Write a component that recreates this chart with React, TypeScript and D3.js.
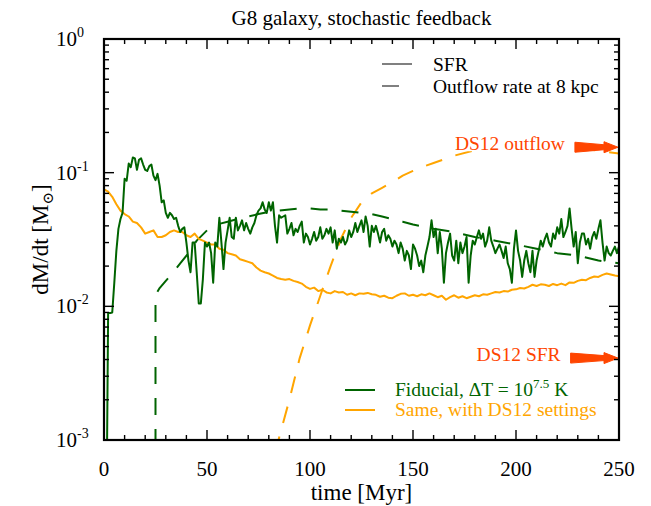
import React from "react";
import * as d3 from "d3";

// ---------- DATA ----------
// Fiducial SFR (green solid), t = 1..250 Myr step 1
const fidSfrStart = 1;
const fidSfr = [
  0.0001, 0.0089, 0.0089, 0.009, 0.015, 0.026, 0.038, 0.045, 0.05, 0.09,
  0.087, 0.117, 0.11, 0.13, 0.128, 0.105, 0.125, 0.128, 0.115, 0.105,
  0.103, 0.112, 0.115, 0.095, 0.088, 0.098, 0.08, 0.06, 0.062, 0.05,
  0.046, 0.05, 0.048, 0.045, 0.046, 0.04, 0.036, 0.038, 0.039, 0.03,
  0.022, 0.018, 0.03, 0.03, 0.018, 0.0105, 0.0105, 0.016, 0.03, 0.028,
  0.03, 0.025, 0.015, 0.03, 0.028, 0.046, 0.03, 0.019, 0.03, 0.037,
  0.046, 0.033, 0.032, 0.046, 0.037, 0.04, 0.044, 0.037, 0.042, 0.038,
  0.035, 0.039, 0.042, 0.048, 0.052, 0.054, 0.06, 0.053, 0.05, 0.06,
  0.052, 0.06, 0.04, 0.03, 0.048, 0.046, 0.047, 0.048, 0.035, 0.038,
  0.042, 0.034, 0.038, 0.036, 0.04, 0.043, 0.03, 0.035, 0.033, 0.029,
  0.032, 0.036, 0.031, 0.033, 0.039, 0.032, 0.034, 0.038, 0.035, 0.039,
  0.03, 0.037, 0.027, 0.032, 0.03, 0.033, 0.029, 0.031, 0.037, 0.033,
  0.036, 0.042, 0.036, 0.04, 0.044, 0.036, 0.047, 0.04, 0.028, 0.04,
  0.036, 0.04, 0.035, 0.03, 0.036, 0.038, 0.031, 0.034, 0.032, 0.028,
  0.031, 0.029, 0.025, 0.03, 0.027, 0.022, 0.026, 0.024, 0.019, 0.029,
  0.027, 0.024, 0.02, 0.022, 0.018, 0.024, 0.028, 0.033, 0.044, 0.033,
  0.038, 0.025, 0.036, 0.027, 0.015, 0.025, 0.03, 0.035, 0.024, 0.022,
  0.031, 0.021, 0.03, 0.025, 0.028, 0.033, 0.015, 0.024, 0.031, 0.029,
  0.033, 0.037, 0.032, 0.035, 0.028, 0.031, 0.039, 0.031, 0.028, 0.025,
  0.027, 0.029, 0.026, 0.023, 0.028, 0.021, 0.019, 0.015, 0.027, 0.037,
  0.026, 0.022, 0.0166, 0.022, 0.026, 0.021, 0.018, 0.026, 0.0166, 0.022,
  0.026, 0.031, 0.028, 0.032, 0.035, 0.03, 0.028, 0.035, 0.032, 0.039,
  0.035, 0.045, 0.033, 0.036, 0.04, 0.054, 0.038, 0.028, 0.036, 0.021,
  0.03, 0.035, 0.035, 0.029, 0.032, 0.027, 0.033, 0.036, 0.032, 0.038,
  0.044, 0.03, 0.022, 0.028, 0.025, 0.024, 0.026, 0.028, 0.025, 0.028,
];

// Fiducial outflow at 8 kpc (green dashed)
const fidOutT = [25, 25, 27, 30, 33, 37, 41, 45, 50, 55, 60, 65, 70, 75, 80, 85, 90, 95, 100, 105, 110, 115, 120, 125, 130, 135, 140, 145, 150, 160, 170, 180, 190, 200, 210, 220, 230, 240, 250];
const fidOut = [0.0009, 0.0122, 0.0137, 0.0155, 0.0175, 0.021, 0.025, 0.031, 0.037, 0.041, 0.043, 0.045, 0.047, 0.049, 0.051, 0.052, 0.053, 0.054, 0.054, 0.053, 0.053, 0.052, 0.051, 0.05, 0.049, 0.047, 0.045, 0.043, 0.041, 0.038, 0.036, 0.033, 0.031, 0.029, 0.027, 0.025, 0.024, 0.022, 0.021];

// DS12 settings SFR (orange solid), t = 0..250 step 2
const dsSfrStep = 2;
const dsSfr = [
  0.075, 0.072, 0.066, 0.058, 0.052, 0.049, 0.047, 0.043, 0.042, 0.039,
  0.035, 0.036, 0.037, 0.033, 0.033, 0.034, 0.036, 0.037, 0.036, 0.036,
  0.034, 0.033, 0.035, 0.032, 0.031, 0.03, 0.029, 0.029, 0.027, 0.0265,
  0.025, 0.0245, 0.024, 0.0225, 0.022, 0.0215, 0.021, 0.0195, 0.0185, 0.018,
  0.0176, 0.017, 0.0163, 0.016, 0.0158, 0.016, 0.0155, 0.0152, 0.0148, 0.014,
  0.0135, 0.0138, 0.013, 0.0133, 0.0127, 0.0125, 0.013, 0.0127, 0.0128, 0.0122,
  0.0125, 0.0121, 0.0125, 0.0124, 0.0126, 0.0123, 0.0122, 0.0118, 0.012, 0.0116,
  0.0115, 0.012, 0.0124, 0.0125, 0.012, 0.0122, 0.0119, 0.0123, 0.0121, 0.0125,
  0.0121, 0.0117, 0.012, 0.0112, 0.0117, 0.0121, 0.0116, 0.0119, 0.0115, 0.0118,
  0.0121, 0.0119, 0.0123, 0.0122, 0.0125, 0.0128, 0.0127, 0.013, 0.0129, 0.0133,
  0.0134, 0.0137, 0.0136, 0.014, 0.0145, 0.0142, 0.0146, 0.0145, 0.0142, 0.0147,
  0.0144, 0.0148, 0.0144, 0.0151, 0.015, 0.0155, 0.0158, 0.0157, 0.0163, 0.0167,
  0.0166, 0.0172, 0.0176, 0.0173, 0.017, 0.0168,
];

// DS12 settings outflow (orange dashed)
const dsOutT = [83, 90, 95, 100, 105, 110, 115, 120, 125, 130, 135, 140, 145, 150, 155, 160, 170, 180, 190, 200, 210, 220, 230, 240, 250];
const dsOut = [0.0008, 0.002, 0.0041, 0.0072, 0.012, 0.02, 0.032, 0.046, 0.06, 0.07, 0.077, 0.085, 0.095, 0.103, 0.111, 0.118, 0.134, 0.147, 0.154, 0.158, 0.159, 0.157, 0.152, 0.146, 0.139];

// DS12 reference values (arrows)
const ds12Labels = ["DS12 outflow", "DS12 SFR"];
const ds12Values = [0.155, 0.0041];
const ds12ArrowTail = [228.6, 226.5];

const xTicks = [0, 50, 100, 150, 200, 250];
const yDecades = [-3, -2, -1, 0];

// ---------- STYLE ----------
const GREEN = "#006400";
const ORANGE = "#FFA500";
const RED = "#FF4500";
const GRAY = "#808080";
const FONT = "'Liberation Serif', 'DejaVu Serif', serif";
const DASH = "17,14";

const W = 651, H = 506;
const L = 104, R = 619, T = 39, B = 440;

export default function App() {
  const x = d3.scaleLinear().domain([0, 250]).range([L, R]);
  const y = d3.scaleLog().domain([1e-3, 1]).range([B, T]);

  const line = d3
    .line<[number, number]>()
    .x((d) => x(d[0]))
    .y((d) => y(Math.max(d[1], 1e-6)));

  const fidSfrPts: [number, number][] = fidSfr.map((v, i) => [fidSfrStart + i, v]);
  const fidOutPts: [number, number][] = fidOut.map((v, i) => [fidOutT[i], v]);
  const dsSfrPts: [number, number][] = dsSfr.map((v, i) => [i * dsSfrStep, v]);
  const dsOutPts: [number, number][] = dsOut.map((v, i) => [dsOutT[i], v]);

  const xMinor = d3.range(0, 251, 10).filter((t) => t % 50 !== 0);
  const yMinor: number[] = [];
  for (const e of [-3, -2, -1]) for (let k = 2; k <= 9; k++) yMinor.push(k * Math.pow(10, e));

  const arrow = (x0: number, x1: number, yc: number) => {
    const xh = x1 - 14;
    return `M${x0},${yc - 5} L${xh},${yc - 2.5} L${xh},${yc - 5.5} L${x1},${yc} L${xh},${yc + 5.5} L${xh},${yc + 2.5} L${x0},${yc + 5} Z`;
  };

  return (
    <svg width={W} height={H} style={{ position: "absolute", left: 0, top: 0, background: "#fff" }} fontFamily={FONT}>
      <rect x={0} y={0} width={W} height={H} fill="#fff" />
      <defs>
        <clipPath id="plotclip">
          <rect x={L} y={T} width={R - L} height={B - T} />
        </clipPath>
      </defs>

      {/* Title */}
      <text x={(L + R) / 2} y={25} textAnchor="middle" fontSize={21} fill="#000">
        G8 galaxy, stochastic feedback
      </text>

      {/* Series */}
      <g clipPath="url(#plotclip)" fill="none" strokeWidth={2} strokeLinejoin="round">
        <path d={line(dsOutPts) || ""} stroke={ORANGE} strokeDasharray={DASH} />
        <path d={line(fidOutPts) || ""} stroke={GREEN} strokeDasharray={DASH} />
        <path d={line(dsSfrPts) || ""} stroke={ORANGE} />
        <path d={line(fidSfrPts) || ""} stroke={GREEN} />
      </g>

      {/* DS12 annotations */}
      {ds12Labels.map((lab, i) => {
        const yc = y(ds12Values[i]);
        const x0 = x(ds12ArrowTail[i]);
        const tw = lab.length > 8 ? 112 : 86;
        return (
          <g key={lab}>
            <rect x={x0 - 10 - tw - 2} y={yc - 13} width={tw + 4} height={17} fill="#fff" />
            <text x={x0 - 10} y={yc + 3} textAnchor="end" fontSize={19.5} fill={RED}>
              {lab}
            </text>
            <path d={arrow(x0, R - 1, yc)} fill={RED} stroke={RED} strokeWidth={1} strokeLinejoin="round" />
          </g>
        );
      })}

      {/* Ticks */}
      <g stroke="#000" strokeWidth={1.4}>
        {xTicks.map((t) => (
          <g key={"xM" + t}>
            <line x1={x(t)} x2={x(t)} y1={B} y2={B - 10} />
            <line x1={x(t)} x2={x(t)} y1={T} y2={T + 10} />
          </g>
        ))}
        {xMinor.map((t) => (
          <g key={"xm" + t}>
            <line x1={x(t)} x2={x(t)} y1={B} y2={B - 5} />
            <line x1={x(t)} x2={x(t)} y1={T} y2={T + 5} />
          </g>
        ))}
        {yDecades.map((e) => (
          <g key={"yM" + e}>
            <line x1={L} x2={L + 10} y1={y(Math.pow(10, e))} y2={y(Math.pow(10, e))} />
            <line x1={R} x2={R - 10} y1={y(Math.pow(10, e))} y2={y(Math.pow(10, e))} />
          </g>
        ))}
        {yMinor.map((v, i) => (
          <g key={"ym" + i}>
            <line x1={L} x2={L + 5} y1={y(v)} y2={y(v)} />
            <line x1={R} x2={R - 5} y1={y(v)} y2={y(v)} />
          </g>
        ))}
      </g>

      {/* Frame */}
      <rect x={L} y={T} width={R - L} height={B - T} fill="none" stroke="#000" strokeWidth={2.2} />

      {/* X tick labels */}
      {xTicks.map((t) => (
        <text key={"xl" + t} x={x(t)} y={476} textAnchor="middle" fontSize={21} fill="#000">
          {t}
        </text>
      ))}
      {/* Y tick labels */}
      {yDecades.map((e) => (
        <text key={"yl" + e} x={56} y={y(Math.pow(10, e)) + 7} fontSize={21} fill="#000">
          10
          <tspan dy={-9} fontSize={14}>
            {String(e)}
          </tspan>
        </text>
      ))}

      {/* Axis labels */}
      <text x={(L + R) / 2} y={500} textAnchor="middle" fontSize={23} fill="#000">
        time [Myr]
      </text>
      <text transform={`translate(48, ${(T + B) / 2}) rotate(-90)`} textAnchor="middle" fontSize={23} fill="#000">
        dM/dt [M
        <tspan dy={5} fontSize={15}>⊙</tspan>
        <tspan dy={-5}>]</tspan>
      </text>

      {/* Top legend */}
      <g>
        <line x1={382} x2={412} y1={64} y2={64} stroke={GRAY} strokeWidth={2} />
        <text x={433} y={71} fontSize={19.5} fill="#000">SFR</text>
        <line x1={382} x2={412} y1={86} y2={86} stroke={GRAY} strokeWidth={2} strokeDasharray={DASH} />
        <text x={433} y={93} fontSize={19.5} fill="#000">Outflow rate at 8 kpc</text>
      </g>

      {/* Bottom legend */}
      <g>
        <line x1={345} x2={375} y1={390} y2={390} stroke={GREEN} strokeWidth={2} />
        <text x={395} y={396} fontSize={19.5} fill={GREEN}>
          Fiducial, ΔT = 10
          <tspan dy={-8} fontSize={13}>7.5</tspan>
          <tspan dy={8}>{"  K"}</tspan>
        </text>
        <line x1={345} x2={375} y1={410} y2={410} stroke={ORANGE} strokeWidth={2} />
        <text x={395} y={416} fontSize={19.5} fill={ORANGE}>Same, with DS12 settings</text>
      </g>
    </svg>
  );
}
